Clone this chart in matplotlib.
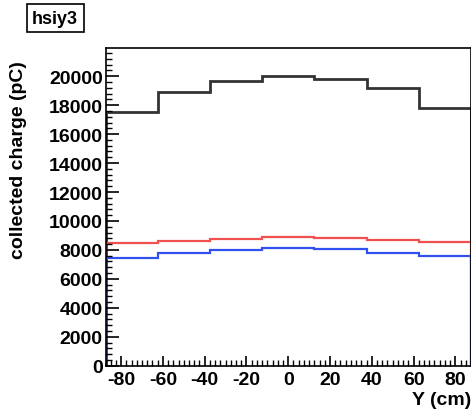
import numpy as np
import matplotlib

matplotlib.use("Agg")
import matplotlib.pyplot as plt
from matplotlib.ticker import MultipleLocator

plt.rcParams["font.family"] = ["Liberation Sans", "DejaVu Sans"]
plt.rcParams["axes.unicode_minus"] = False

# bin edges along Y (cm) and per-bin collected charge (pC)
bin_edges = [-87.5, -62.5, -37.5, -12.5, 12.5, 37.5, 62.5, 87.5]
charge_total = [17550, 18930, 19670, 20040, 19790, 19210, 17810]
charge_red = [8500, 8610, 8750, 8890, 8840, 8700, 8550]
charge_blue = [7460, 7760, 7990, 8130, 8060, 7820, 7580]

fig = plt.figure(figsize=(4.71, 4.14), dpi=100)
ax = fig.add_axes([0.224, 0.1143, 0.776, 0.7673])

ax.stairs(charge_total, bin_edges, color="#333333", linewidth=2.0)
ax.stairs(charge_red, bin_edges, color="#f05050", linewidth=1.6)
ax.stairs(charge_blue, bin_edges, color="#3050f0", linewidth=1.6)

ax.set_xlim(-87.5, 87.5)
ax.set_ylim(0, 21950)
ax.xaxis.set_major_locator(MultipleLocator(20))
ax.xaxis.set_minor_locator(MultipleLocator(2.5))
ax.yaxis.set_major_locator(MultipleLocator(2000))
ax.yaxis.set_minor_locator(MultipleLocator(400))
ax.tick_params(axis="both", which="major", direction="in", length=9, width=1.2,
               labelsize=14, pad=2)
ax.tick_params(axis="x", which="major", length=7, pad=4)
ax.tick_params(axis="both", which="minor", direction="in", length=4.5, width=1.0)
for lab in ax.get_xticklabels() + ax.get_yticklabels():
    lab.set_fontweight("bold")
for side in ax.spines.values():
    side.set_linewidth(1.2)

ax.set_ylabel("collected charge (pC)", fontsize=14, fontweight="bold")
ax.yaxis.set_label_coords(-0.215, 0.65)
ax.set_xlabel("Y (cm)", fontsize=14, fontweight="bold", ha="right")
ax.xaxis.set_label_coords(1.0, -0.08)

fig.text(0.117, 0.954, "hsiy3", fontsize=13, fontweight="bold", ha="center", va="center",
         bbox=dict(boxstyle="square,pad=0.3", facecolor="white", edgecolor="black",
                   linewidth=1.2))

fig.savefig("out.png", dpi=100)
